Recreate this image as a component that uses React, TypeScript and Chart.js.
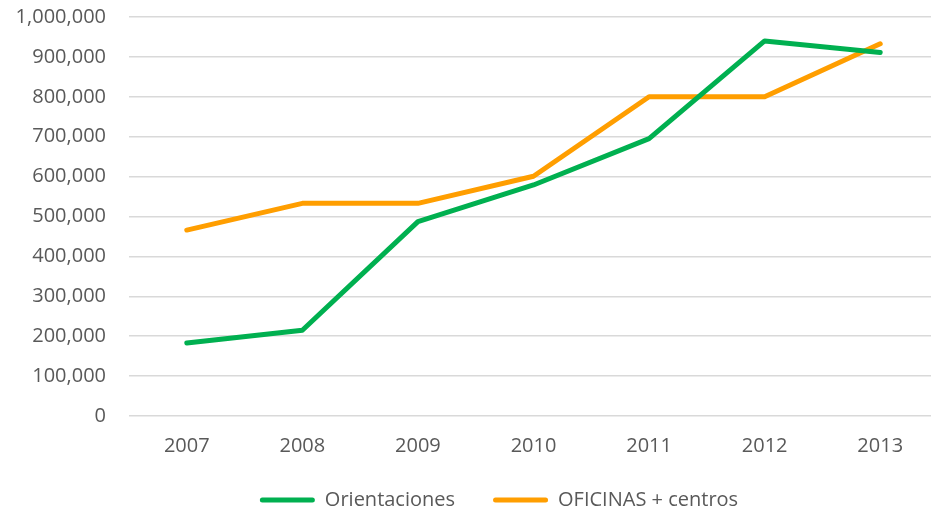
import React, { useEffect, useRef } from "react";
import { Chart, registerables } from "chart.js";

Chart.register(...registerables);

const years = ["2007", "2008", "2009", "2010", "2011", "2012", "2013"];
const orientaciones = [183000, 215000, 487000, 579000, 695000, 940000, 911000];
const oficinas = [466000, 533000, 533000, 601000, 800000, 800000, 933000];
const seriesNames = ["Orientaciones", "OFICINAS + centros"];
const seriesColors = ["#00B050", "#FF9E00"];

const FONT = "'Open Sans', sans-serif";
const TEXT = "#595959";
const GRID = "#D9D9D9";

const legendShift = {
  id: "legendShift",
  afterLayout(chart: any) {
    if (chart.legend) {
      chart.legend.left += 30;
      chart.legend.right += 30;
    }
  },
};

export default function App() {
  const ref = useRef<HTMLCanvasElement | null>(null);

  useEffect(() => {
    if (!ref.current) return;
    const chart = new Chart(ref.current, {
      type: "line",
      data: {
        labels: years,
        datasets: [
          {
            label: seriesNames[0],
            data: orientaciones,
            borderColor: seriesColors[0],
            backgroundColor: seriesColors[0],
            borderWidth: 5,
            pointRadius: 0,
            borderCapStyle: "round",
            borderJoinStyle: "round",
            tension: 0,
          },
          {
            label: seriesNames[1],
            data: oficinas,
            borderColor: seriesColors[1],
            backgroundColor: seriesColors[1],
            borderWidth: 5,
            pointRadius: 0,
            borderCapStyle: "round",
            borderJoinStyle: "round",
            tension: 0,
          },
        ],
      },
      plugins: [legendShift],
      options: {
        responsive: false,
        animation: false,
        layout: { padding: { top: 17, left: 0, right: 0, bottom: 2 } },
        plugins: {
          tooltip: { enabled: false },
          legend: {
            position: "bottom",
            labels: {
              font: { family: FONT, size: 20 },
              color: TEXT,
              boxWidth: 55,
              boxHeight: 5,
              padding: 38,
              generateLabels: (c: any) =>
                c.data.datasets.map((d: any, i: number) => ({
                  text: d.label,
                  fillStyle: d.borderColor,
                  strokeStyle: d.borderColor,
                  lineWidth: 0,
                  borderRadius: 2.5,
                  fontColor: TEXT,
                  hidden: false,
                  datasetIndex: i,
                })),
            },
          },
        },
        scales: {
          x: {
            offset: true,
            grid: { display: false, drawTicks: false },
            border: { display: false },
            ticks: {
              font: { family: FONT, size: 20 },
              color: TEXT,
              padding: 18,
              maxRotation: 0,
            },
            afterFit: (s: any) => {
              s.height = 36;
            },
          },
          y: {
            min: 0,
            max: 1000000,
            grid: { color: GRID, lineWidth: 1.5, drawTicks: false },
            border: { display: false },
            ticks: {
              stepSize: 100000,
              font: { family: FONT, size: 20 },
              color: TEXT,
              padding: 23,
              callback: (v: any) => Number(v).toLocaleString("en-US"),
            },
            afterFit: (s: any) => {
              s.width = 129;
              s.paddingTop = 12;
              s.paddingBottom = 12;
            },
          },
        },
      },
    });
    return () => chart.destroy();
  }, []);

  return (
    <div style={{ position: "fixed", left: 0, top: 0, width: 938, height: 522, background: "#fff" }}>
      <canvas ref={ref} width={938} height={522} style={{ display: "block" }} />
    </div>
  );
}
